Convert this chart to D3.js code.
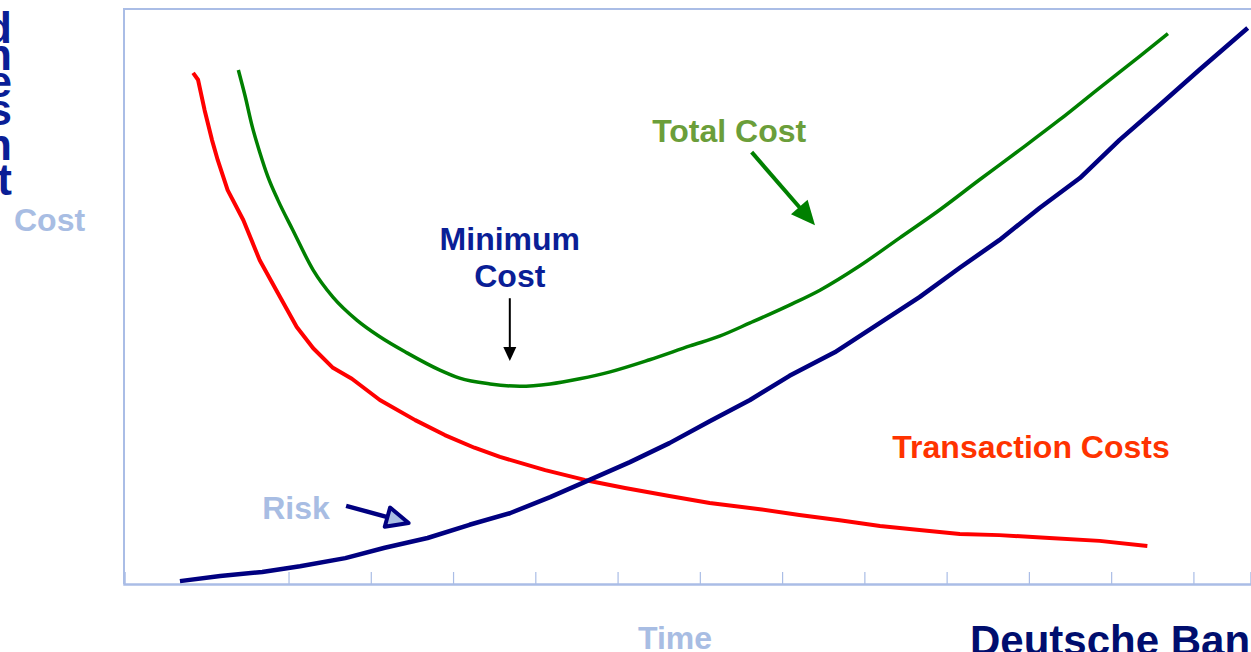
<!DOCTYPE html>
<html>
<head>
<meta charset="utf-8">
<script src="https://cdn.jsdelivr.net/npm/d3@7"></script>
<style>
  html, body { margin: 0; padding: 0; background: #fff; overflow: hidden; }
  text { font-family: Arial, "Liberation Sans", sans-serif; font-weight: bold; }
</style>
</head>
<body>
<div id="chart"></div>
<script>
// time units along x, cost units along y
var transactionCosts = [
  [0.84, 88.9], [0.90, 87.7], [0.98, 82.4], [1.07, 77.2], [1.14, 73.7], [1.26, 68.5],
  [1.45, 63.3], [1.65, 56.3], [1.87, 50.6], [2.10, 44.7], [2.30, 41.0], [2.54, 37.6],
  [2.77, 35.7], [3.11, 32.0], [3.54, 28.5], [3.90, 25.9], [4.26, 23.7], [4.57, 22.1],
  [5.12, 19.8], [5.60, 18.1], [6.09, 16.7], [6.63, 15.3], [7.12, 14.1], [7.73, 13.0],
  [8.21, 12.0], [8.70, 11.1], [9.19, 10.1], [9.67, 9.4], [10.16, 8.7], [10.64, 8.5],
  [11.25, 8.0], [11.86, 7.5], [12.44, 6.6]
];
var totalCost = [
  [1.39, 89.4], [1.47, 85.0], [1.56, 79.5], [1.65, 75.1], [1.75, 70.8], [1.87, 66.8],
  [2.05, 61.6], [2.30, 54.6], [2.54, 49.9], [2.83, 45.9], [3.11, 43.0], [3.44, 40.2],
  [3.84, 37.2], [4.08, 35.8], [4.45, 34.8], [4.81, 34.4], [5.18, 34.8], [5.54, 35.7],
  [5.91, 36.9], [6.39, 39.0], [6.88, 41.4], [7.24, 43.1], [7.61, 45.4], [8.09, 48.5],
  [8.46, 51.1], [8.94, 55.3], [9.43, 60.2], [9.91, 65.0], [10.40, 70.3], [10.89, 75.5],
  [11.37, 80.7], [11.86, 86.3], [12.35, 91.8], [12.69, 95.7]
];
var risk = [
  [0.68, 0.5], [1.17, 1.4], [1.68, 2.1], [2.14, 3.1], [2.69, 4.5], [3.17, 6.3],
  [3.69, 8.0], [4.20, 10.3], [4.69, 12.3], [5.18, 15.1], [5.66, 18.1], [6.15, 21.2],
  [6.63, 24.5], [7.12, 28.3], [7.61, 32.0], [8.09, 36.2], [8.64, 40.3], [9.19, 45.4],
  [9.67, 49.9], [10.16, 55.0], [10.64, 59.8], [11.13, 65.4], [11.62, 70.6], [12.10, 77.2],
  [12.59, 83.3], [13.07, 89.4], [13.66, 96.7]
];
var timeTicks = [2, 3, 4, 5, 6, 7, 8, 9, 10, 11, 12, 13];
var sideLetters = ["d", "n", "e", "s", "n", "t"];

var W = 1251, H = 652;
var svg = d3.select("#chart").append("svg")
  .attr("width", W)
  .attr("height", H);

var x = d3.scaleLinear().domain([0, 13.7]).range([124, 1251]);
var y = d3.scaleLinear().domain([0, 100]).range([584, 9]);

var axisColor = "#aabde6";

// frame: left + top edges
svg.append("path")
  .attr("d", "M" + x(13.7) + "," + y(100) + "H" + x(0) + "V" + y(0))
  .attr("fill", "none")
  .attr("stroke", axisColor)
  .attr("stroke-width", 2);

// bottom axis with small ticks
var xAxis = d3.axisBottom(x).tickValues(timeTicks).tickSize(-12).tickFormat("");
var gx = svg.append("g")
  .attr("transform", "translate(0," + y(0) + ")")
  .call(xAxis);
gx.select(".domain").attr("stroke", axisColor).attr("stroke-width", 2.5);
gx.selectAll(".tick line").attr("stroke", axisColor).attr("stroke-width", 1.2);

function drawSeries(data, color, width, curve) {
  var line = d3.line()
    .x(function (d) { return x(d[0]); })
    .y(function (d) { return y(d[1]); })
    .curve(curve || d3.curveLinear);
  svg.append("path")
    .datum(data)
    .attr("d", line)
    .attr("fill", "none")
    .attr("stroke", color)
    .attr("stroke-width", width)
    .attr("stroke-linejoin", "round");
}
drawSeries(transactionCosts, "#ff0000", 4);
drawSeries(totalCost, "#008000", 3.5, d3.curveMonotoneX);
drawSeries(risk, "#000080", 4.5);

// arrows: start/end in data units
function arrow(from, to, opts) {
  var x1 = x(from[0]), y1 = y(from[1]), x2 = x(to[0]), y2 = y(to[1]);
  var ang = Math.atan2(y2 - y1, x2 - x1);
  var L = opts.headLen, hw = opts.headWidth / 2;
  var bx = x2 - L * Math.cos(ang), by = y2 - L * Math.sin(ang);
  svg.append("line")
    .attr("x1", x1).attr("y1", y1)
    .attr("x2", bx + (L * 0.3) * Math.cos(ang)).attr("y2", by + (L * 0.3) * Math.sin(ang))
    .attr("stroke", opts.color)
    .attr("stroke-width", opts.width);
  var pts = [
    [x2, y2],
    [bx + hw * Math.sin(ang), by - hw * Math.cos(ang)],
    [bx - hw * Math.sin(ang), by + hw * Math.cos(ang)]
  ];
  svg.append("polygon")
    .attr("points", pts.map(function (p) { return p.join(","); }).join(" "))
    .attr("fill", opts.fill)
    .attr("stroke", opts.stroke || "none")
    .attr("stroke-width", opts.strokeWidth || 0)
    .attr("stroke-linejoin", "round");
}

arrow([4.69, 49.7], [4.69, 38.8], { color: "#000", width: 2, headLen: 14, headWidth: 13, fill: "#000" });
arrow([7.63, 75.1], [8.40, 62.4], { color: "#008000", width: 4, headLen: 24, headWidth: 22, fill: "#008000" });
arrow([2.70, 13.6], [3.46, 10.6], { color: "#000080", width: 4.5, headLen: 22, headWidth: 20, fill: "#a8bde3", stroke: "#000080", strokeWidth: 4 });

// in-chart labels
function label(txt, px, py, color, size, anchor) {
  svg.append("text")
    .attr("x", px).attr("y", py)
    .attr("fill", color)
    .attr("font-size", size)
    .attr("text-anchor", anchor || "start")
    .text(txt);
}
label("Total Cost", x(6.42), y(76.9), "#6b9e3a", 32);
label("Minimum", x(4.69), y(58.1), "#0a1e96", 32, "middle");
label("Cost", x(4.69), y(51.7), "#0a1e96", 32, "middle");
label("Transaction Costs", x(9.34), y(21.9), "#ff3300", 32);
label("Risk", x(1.68), y(11.3), "#a8bde3", 32);

// outside labels
label("Cost", 14, 231, "#a8bde3", 32);
label("Time", 638, 649, "#a8bde3", 32);
label("Deutsche Bank", 970, 655, "#000e6e", 42);

// clipped stacked letters at the far left
var side = svg.append("text")
  .attr("fill", "#0a1e96")
  .attr("font-size", 44)
  .attr("text-anchor", "end");
var baselines = [43, 70, 97, 125, 160, 195];
side.selectAll("tspan")
  .data(sideLetters)
  .enter().append("tspan")
  .attr("x", 12)
  .attr("y", function (d, i) { return baselines[i]; })
  .text(function (d) { return d; });
</script>
</body>
</html>
